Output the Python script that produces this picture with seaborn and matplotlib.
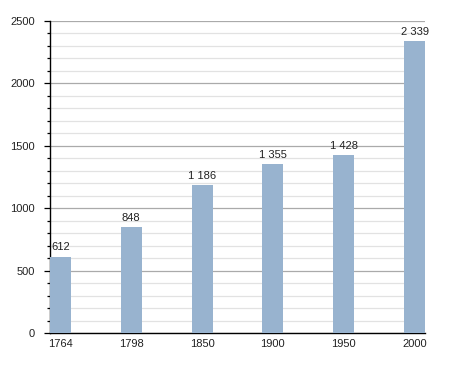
import matplotlib
matplotlib.use("Agg")
import matplotlib.pyplot as plt
import seaborn as sns
import pandas as pd
from matplotlib.ticker import MultipleLocator

years = ["1764", "1798", "1850", "1900", "1950", "2000"]
population = [612, 848, 1186, 1355, 1428, 2339]
y_ticks = [0, 500, 1000, 1500, 2000, 2500]

df = pd.DataFrame({"year": years, "pop": population})

sns.set_theme(style="white")
plt.rcParams["font.family"] = ["Liberation Sans", "DejaVu Sans"]

fig = plt.figure(figsize=(4.55, 3.73), dpi=100)
ax = fig.add_axes([50/455, 40/373, 375/455, 312/373])

bar_w = 21/71
sns.barplot(data=df, x="year", y="pop", color="#98b3cf", width=bar_w,
            saturation=1, ax=ax, zorder=3, linewidth=0, edgecolor="none")

ax.set_xlim(-bar_w/2, len(years) - 1 + bar_w/2)
ax.set_ylim(0, 2500)
ax.set_yticks(y_ticks)
ax.yaxis.set_minor_locator(MultipleLocator(100))
ax.grid(which="major", axis="y", color="#aaaaaa", linewidth=0.9, zorder=0)
ax.grid(which="minor", axis="y", color="#e2e2e2", linewidth=0.9, zorder=0)
ax.set_axisbelow(True)

ax.set_xlabel("")
ax.set_ylabel("")
for s in ["top", "right"]:
    ax.spines[s].set_visible(False)
for s in ["left", "bottom"]:
    ax.spines[s].set_color("black")
    ax.spines[s].set_linewidth(1.0)

ax.tick_params(axis="y", which="major", left=True, length=4, width=0.9,
               color="black", labelsize=8, pad=7, labelcolor="#222222")
ax.tick_params(axis="y", which="minor", left=True, length=2, width=0.9, color="black")
ax.tick_params(axis="x", which="both", bottom=False, length=0, labelsize=8, pad=4,
               labelcolor="#222222")

for i, v in enumerate(population):
    label = f"{v:,}".replace(",", " ")
    ax.annotate(label, (i, v), xytext=(0, 3), textcoords="offset points",
                ha="center", va="bottom", fontsize=8, color="#222222")

fig.savefig("out.png", dpi=100)
